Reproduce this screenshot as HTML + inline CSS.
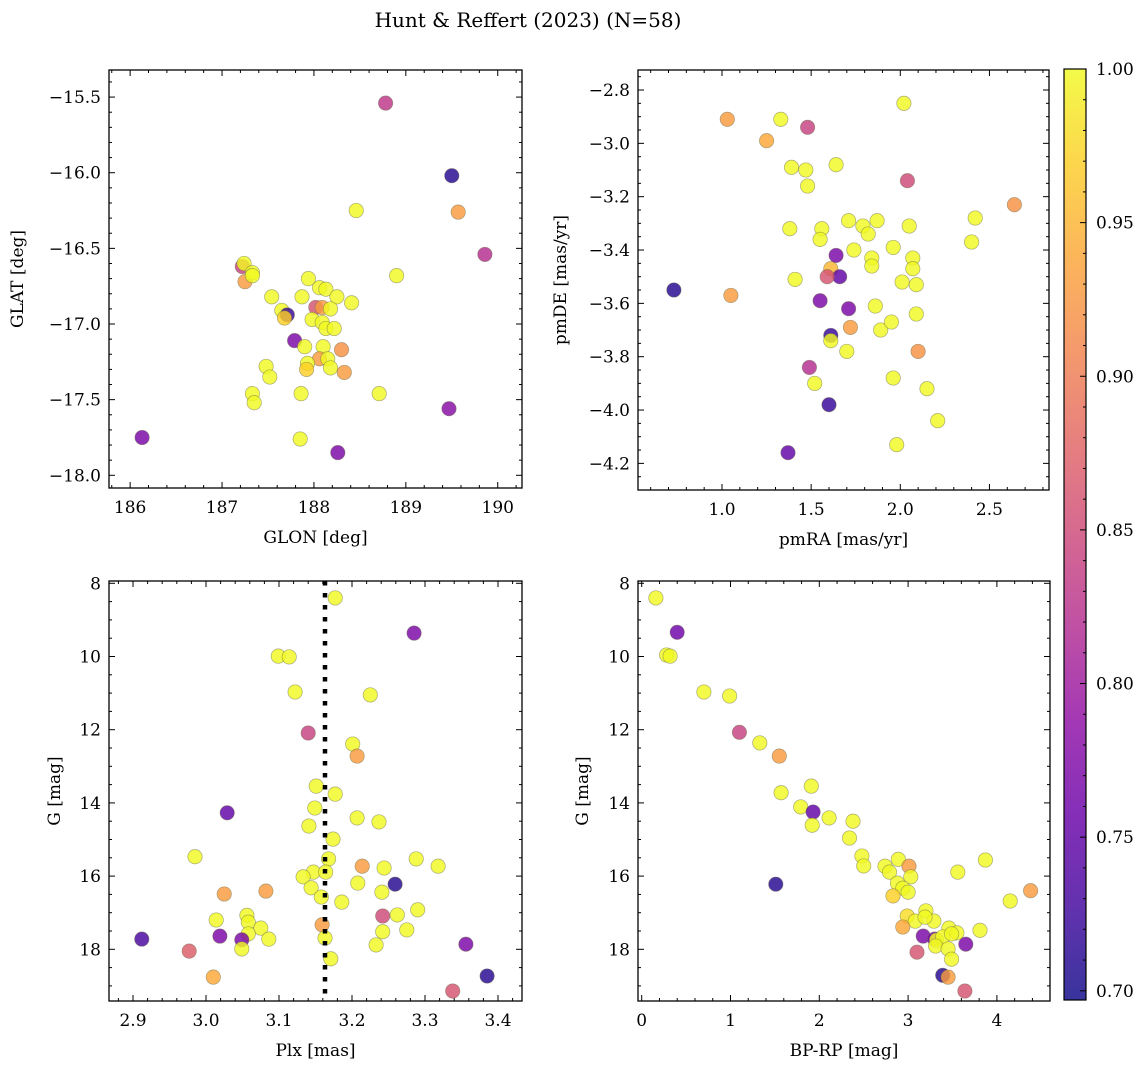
<!DOCTYPE html>
<html><head><meta charset="utf-8">
<style>
html,body{margin:0;padding:0;background:#fff;}
svg{display:block;font-family:"DejaVu Serif","Liberation Serif",serif;}
</style></head>
<body>
<svg id="fig" width="1148" height="1068" viewBox="0 0 1148 1068" xmlns="http://www.w3.org/2000/svg">
<defs>
<linearGradient id="cbgrad" x1="0" y1="1" x2="0" y2="0">
<stop offset="0" stop-color="#0d0887"/><stop offset="0.1" stop-color="#41049d"/><stop offset="0.2" stop-color="#6a00a8"/><stop offset="0.3" stop-color="#8f0da4"/><stop offset="0.4" stop-color="#b12a90"/><stop offset="0.5" stop-color="#cc4778"/><stop offset="0.6" stop-color="#e16462"/><stop offset="0.7" stop-color="#f2844b"/><stop offset="0.8" stop-color="#fca636"/><stop offset="0.9" stop-color="#fcce25"/><stop offset="1" stop-color="#f0f921"/>
</linearGradient>
</defs>
<text x="528" y="27" font-size="20" text-anchor="middle">Hunt &amp; Reffert (2023) (N=58)</text>
</svg>
<script>
// ---- data: top-left (GLON/GLAT) ----
const glon = [188.78,189.50,189.57,189.86,188.46,188.90,187.22,187.24,187.25,187.33,187.33,187.54,187.65,187.71,187.68,187.94,187.87,188.06,188.13,188.25,188.41,188.02,188.09,188.18,187.98,188.09,188.13,188.22,187.79,187.90,188.10,188.30,188.06,188.15,187.93,187.92,188.18,188.33,187.48,187.52,187.33,187.35,187.86,188.71,187.85,186.13,188.26,189.47];
const glat = [-15.54,-16.02,-16.26,-16.54,-16.25,-16.68,-16.62,-16.60,-16.72,-16.66,-16.68,-16.82,-16.91,-16.94,-16.96,-16.70,-16.82,-16.76,-16.77,-16.82,-16.86,-16.89,-16.89,-16.90,-16.97,-16.99,-17.03,-17.03,-17.11,-17.15,-17.15,-17.17,-17.23,-17.23,-17.26,-17.30,-17.29,-17.32,-17.28,-17.35,-17.46,-17.52,-17.46,-17.46,-17.76,-17.75,-17.85,-17.56];
const probTL = [0.83,0.71,0.93,0.82,1,1,0.84,1,0.93,1,1,1,1,0.72,0.97,1,1,1,1,1,1,0.86,0.93,1,1,1,1,1,0.77,1,1,0.92,0.93,1,1,0.97,1,0.93,1,1,1,1,1,1,1,0.77,0.77,0.78];
// ---- data: top-right (pmRA/pmDE) ----
const pmra = [1.03,1.33,1.48,1.25,2.02,1.39,1.47,1.48,1.64,2.04,2.64,2.42,2.40,1.71,1.79,1.87,1.56,1.38,1.55,1.82,1.74,1.96,2.05,1.84,2.07,1.84,2.07,1.61,1.64,1.66,1.59,0.73,1.05,1.41,2.01,2.09,1.55,1.71,1.86,2.09,1.61,1.61,1.89,1.95,1.72,1.70,2.10,2.15,1.96,1.49,1.52,1.60,2.21,1.98,1.37];
const pmde = [-2.91,-2.91,-2.94,-2.99,-2.85,-3.09,-3.10,-3.16,-3.08,-3.14,-3.23,-3.28,-3.37,-3.29,-3.31,-3.29,-3.32,-3.32,-3.36,-3.34,-3.40,-3.39,-3.31,-3.43,-3.43,-3.46,-3.47,-3.47,-3.42,-3.50,-3.50,-3.55,-3.57,-3.51,-3.52,-3.53,-3.59,-3.62,-3.61,-3.64,-3.72,-3.74,-3.70,-3.67,-3.69,-3.78,-3.78,-3.92,-3.88,-3.84,-3.90,-3.98,-4.04,-4.13,-4.16];
const probTR = [0.93,1,0.84,0.94,1,1,1,1,1,0.85,0.92,1,1,1,1,1,1,1,1,1,1,1,1,1,1,1,1,0.95,0.77,0.75,0.86,0.71,0.93,1,1,1,0.77,0.77,1,1,0.72,1,1,1,0.93,1,0.92,1,1,0.82,1,0.72,1,1,0.75];
// ---- data: bottom-left (Plx/G) ----
const plx = [3.177,3.099,3.114,3.122,3.225,3.140,3.285,3.201,3.207,3.151,3.177,3.149,3.141,3.207,3.237,3.174,3.168,3.147,3.133,3.164,3.144,3.158,3.186,3.214,3.244,3.288,3.208,3.241,3.259,3.082,3.056,3.058,3.075,3.058,3.086,3.049,3.049,3.242,3.262,3.290,3.275,3.242,3.233,3.159,3.163,3.171,2.985,3.025,3.014,3.019,3.029,2.912,2.977,3.010,3.338,3.385,3.356,3.318];
const gmagBL = [8.40,9.99,10.01,10.97,11.05,12.09,9.36,12.39,12.72,13.54,13.76,14.14,14.63,14.41,14.52,14.99,15.53,15.89,16.02,15.89,16.32,16.57,16.71,15.73,15.78,15.53,16.19,16.44,16.22,16.41,17.07,17.26,17.42,17.58,17.72,17.74,17.99,17.09,17.06,16.92,17.47,17.52,17.88,17.33,17.69,18.26,15.47,16.49,17.20,17.64,14.27,17.72,18.05,18.76,19.14,18.73,17.86,15.73];
const probBL = [1,1,1,1,1,0.84,0.77,1,0.93,1,1,1,1,1,1,1,1,1,1,1,1,1,1,0.93,1,1,1,1,0.71,0.93,1,1,1,1,1,0.77,1,0.85,1,1,1,1,1,0.93,1,1,1,0.93,1,0.77,0.75,0.73,0.87,0.94,0.86,0.71,0.77,1];
const plxRef = [3.163];
// ---- data: bottom-right (BP-RP/G) ----
const bprp = [0.16,0.40,0.28,0.32,0.70,0.99,1.10,1.33,1.55,1.57,1.91,1.79,1.93,1.92,2.11,2.38,2.34,2.48,2.50,2.74,2.89,3.01,2.79,3.03,2.88,2.94,3.00,2.83,3.56,3.87,4.15,4.38,2.99,3.20,3.08,3.29,3.19,2.94,3.17,3.30,3.32,3.46,3.55,3.39,3.49,3.31,3.45,3.65,3.81,3.10,3.49,3.39,3.45,3.64,1.51];
const gmagBR = [8.40,9.34,9.96,9.99,10.97,11.08,12.07,12.36,12.72,13.72,13.54,14.11,14.25,14.61,14.41,14.50,14.96,15.45,15.72,15.73,15.54,15.73,15.89,16.02,16.19,16.33,16.44,16.54,15.89,15.56,16.68,16.40,17.09,16.95,17.23,17.23,17.12,17.39,17.64,17.72,17.75,17.42,17.55,17.66,17.58,17.91,17.99,17.86,17.48,18.08,18.27,18.71,18.76,19.14,16.22];
const probBR = [1,0.76,1,1,1,1,0.84,1,0.93,1,1,1,0.75,1,1,1,1,1,1,1,1,0.93,1,1,1,1,1,0.97,1,1,1,0.93,0.98,1,1,1,1,0.94,0.77,0.77,1,1,1,1,1,1,1,0.77,1,0.86,1,0.71,0.93,0.86,0.71];
// ---- colorbar ----
const cbTicks = [0.70,0.75,0.80,0.85,0.90,0.95,1.00];
const VMIN = 0.697, VMAX = 1.0;

const NS = "http://www.w3.org/2000/svg";
const svg = document.getElementById('fig');
const stops = [[13,8,135],[65,4,157],[106,0,168],[143,13,164],[177,42,144],[204,71,120],[225,100,98],[242,132,75],[252,166,54],[252,206,37],[240,249,33]];
function plasma(v){
  let t=(v-VMIN)/(VMAX-VMIN); t=Math.max(0,Math.min(1,t));
  const f=t*10, i=Math.min(9,Math.floor(f)), r=f-i;
  const a=stops[i], b=stops[i+1];
  return 'rgb('+a.map((c,k)=>Math.round(c+(b[k]-c)*r)).join(',')+')';
}
function mk(tag, attrs, parent){
  const e=document.createElementNS(NS,tag);
  for(const k in attrs) e.setAttribute(k,attrs[k]);
  (parent||svg).appendChild(e); return e;
}
function panel(o){
  const g=mk('g',{});
  
  
  const sx=v=>o.x0+(v-o.xmin)/(o.xmax-o.xmin)*(o.x1-o.x0);
  const sy=v=>o.y0+(v-o.ymax)/(o.ymin-o.ymax)*(o.y1-o.y0);
  const fy = o.invert ? (v=>o.y0+(v-o.ymin)/(o.ymax-o.ymin)*(o.y1-o.y0)) : sy;
  const pg=mk('g',{},g);
  
  
  for(let i=0;i<o.xs.length;i++){
    const c=mk('circle',{cx:sx(o.xs[i]).toFixed(1),cy:fy(o.ys[i]).toFixed(1),r:7.2,fill:plasma(o.cs[i]),'fill-opacity':0.82,stroke:'#6b6b4a','stroke-opacity':0.55,'stroke-width':0.7},pg);
    
    
  }
  if(o.vline){
    for(const v of o.vline){
      const l=mk('line',{x1:sx(v),x2:sx(v),y1:o.y0,y2:o.y1,stroke:'#000','stroke-width':4.5,'stroke-dasharray':'4.5 7.5'},g);
      
      
    }
  }
  const fr=mk('rect',{x:o.x0,y:o.y0,width:o.x1-o.x0,height:o.y1-o.y0,fill:'none',stroke:'#000','stroke-width':1.3},g);
  
  
  const lo=Math.min(o.xmin,o.xmax), hi=Math.max(o.xmin,o.xmax);
  for(let v=Math.ceil(lo/o.xminor-1e-6)*o.xminor; v<=hi+1e-9; v+=o.xminor){
    const X=sx(v); const major=Math.abs(v/o.xmajor-Math.round(v/o.xmajor))<1e-6;
    const L=major?6:3;
    mk('line',{x1:X,x2:X,y1:o.y1,y2:o.y1-L,stroke:'#000','stroke-width':1},g);
    mk('line',{x1:X,x2:X,y1:o.y0,y2:o.y0+L,stroke:'#000','stroke-width':1},g);
    if(major){
      const t=mk('text',{x:X,y:o.y1+25,'font-size':17,'text-anchor':'middle'},g);
      t.textContent=v.toFixed(o.xdec);
      
      
    }
  }
  const ylo=Math.min(o.ymin,o.ymax), yhi=Math.max(o.ymin,o.ymax);
  for(let v=Math.ceil(ylo/o.yminor-1e-6)*o.yminor; v<=yhi+1e-9; v+=o.yminor){
    const Y=fy(v); const major=Math.abs(v/o.ymajor-Math.round(v/o.ymajor))<1e-6;
    const L=major?6:3;
    mk('line',{x1:o.x0,x2:o.x0+L,y1:Y,y2:Y,stroke:'#000','stroke-width':1},g);
    mk('line',{x1:o.x1,x2:o.x1-L,y1:Y,y2:Y,stroke:'#000','stroke-width':1},g);
    if(major){
      const t=mk('text',{x:o.x0-8,y:Y+6,'font-size':17,'text-anchor':'end'},g);
      t.textContent=(v<0?'\u2212':'')+Math.abs(v).toFixed(o.ydec);
      
      
    }
  }
  const xl=mk('text',{x:(o.x0+o.x1)/2,y:o.y1+55,'font-size':17,'text-anchor':'middle'},g);
  xl.textContent=o.xlabel;
  
  
  const yc=(o.y0+o.y1)/2;
  const yl=mk('text',{x:o.ylx,y:yc,'font-size':17,'text-anchor':'middle',transform:'rotate(-90 '+o.ylx+' '+yc+')'},g);
  yl.textContent=o.ylabel;
  
  
}
panel({name:'glon-glat-panel',x0:109,x1:522,y0:70,y1:488,xmin:185.77,xmax:190.264,ymin:-18.084,ymax:-15.321,
  xs:glon,ys:glat,cs:probTL,xminor:0.2,xmajor:1,xdec:0,yminor:0.1,ymajor:0.5,ydec:1,xlabel:'GLON [deg]',ylabel:'GLAT [deg]',ylx:23});
panel({name:'pm-panel',x0:638,x1:1049,y0:70,y1:490,xmin:1-(722-638)/178.3,xmax:1+(1049-722)/178.3,ymin:-2.8-(490-90)/266.7,ymax:-2.8+(90-70)/266.7,
  xs:pmra,ys:pmde,cs:probTR,xminor:0.1,xmajor:0.5,xdec:1,yminor:0.05,ymajor:0.2,ydec:1,xlabel:'pmRA [mas/yr]',ylabel:'pmDE [mas/yr]',ylx:566});
panel({name:'plx-g-panel',x0:109,x1:522,y0:581,y1:1001,xmin:2.9-(133-109)/730,xmax:2.9+(522-133)/730,ymin:8-(583.3-581)/36.6,ymax:8+(1001-583.3)/36.6,invert:true,
  xs:plx,ys:gmagBL,cs:probBL,vline:plxRef,xminor:0.02,xmajor:0.1,xdec:1,yminor:0.5,ymajor:2,ydec:0,xlabel:'Plx [mas]',ylabel:'G [mag]',ylx:60});
panel({name:'color-magnitude-panel',x0:638,x1:1050,y0:581,y1:1001,xmin:-(641.7-638)/88.8,xmax:(1050-641.7)/88.8,ymin:8-(583.3-581)/36.6,ymax:8+(1001-583.3)/36.6,invert:true,
  xs:bprp,ys:gmagBR,cs:probBR,xminor:0.2,xmajor:1,xdec:0,yminor:0.5,ymajor:2,ydec:0,xlabel:'BP-RP [mag]',ylabel:'G [mag]',ylx:588});
const cb=mk('g',{});


const cbx0=1064, cbx1=1086, cby0=69, cby1=1000;
mk('rect',{x:cbx0,y:cby0,width:cbx1-cbx0,height:cby1-cby0,fill:'url(#cbgrad)','fill-opacity':0.82},cb);
mk('rect',{x:cbx0,y:cby0,width:cbx1-cbx0,height:cby1-cby0,fill:'none',stroke:'#000','stroke-width':1.2},cb);
const cy=v=>cby1-(v-VMIN)/(VMAX-VMIN)*(cby1-cby0);
for(let k=70;k<=100;k++){
  const v=k/100, Y=cy(v), major=(k%5===0);
  mk('line',{x1:cbx1,x2:cbx1-(major?6:3),y1:Y,y2:Y,stroke:'#000','stroke-width':1},cb);
}
for(const v of cbTicks){
  const t=mk('text',{x:cbx1+10,y:cy(v)+6,'font-size':17},cb);
  t.textContent=v.toFixed(2);
  
  
}
</script>
</body></html>
